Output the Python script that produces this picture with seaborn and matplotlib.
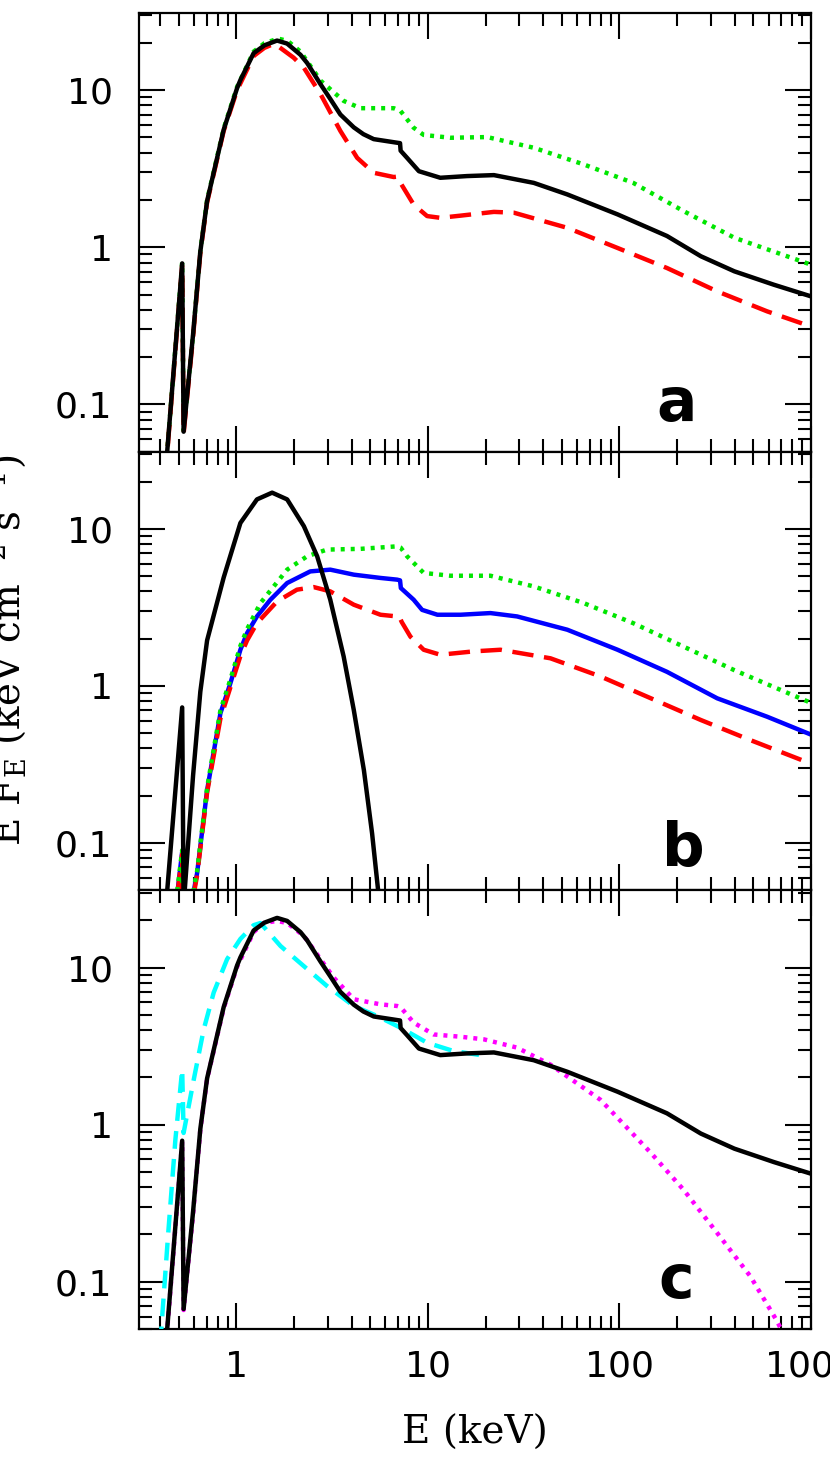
import numpy as np
import pandas as pd
import matplotlib
matplotlib.use("Agg")
import matplotlib.pyplot as plt
import seaborn as sns
from matplotlib.ticker import LogLocator, NullFormatter, FixedLocator, FixedFormatter

# ---------------- data (E in keV, E F_E) ----------------
# total spectrum (black solid, panels a and c)
E_tot = [0.425, 0.521, 0.530, 0.594, 0.648, 0.703, 0.858, 1.008, 1.049, 1.23, 1.335, 1.40, 1.63, 1.84,
         2.16, 2.34, 2.75, 3.09, 3.49, 4.10, 4.60, 5.21, 6.90, 7.15, 7.20, 7.78, 8.97, 11.6, 16.0,
         22.1, 35.7, 53.4, 97.7, 177, 266, 398, 639, 1000]
F_tot = [0.035, 0.79, 0.067, 0.28, 0.94, 1.97, 5.6, 10.3, 11.6, 17.2, 18.5, 19.3, 20.7, 19.8,
         16.8, 14.9, 10.9, 8.8, 7.0, 5.8, 5.25, 4.88, 4.63, 4.60, 4.12, 3.71, 3.05, 2.77, 2.84,
         2.88, 2.57, 2.17, 1.62, 1.18, 0.877, 0.703, 0.578, 0.487]

# panel a: green dotted
E_ga = [0.425, 0.521, 0.530, 0.594, 0.648, 0.703, 0.858, 1.008, 1.23, 1.40, 1.65, 1.85, 2.16, 2.75,
        3.63, 4.45, 6.63, 7.19, 8.42, 9.5, 13.1, 20.4, 35.7, 65, 118, 216, 398, 1000]
F_ga = [0.035, 0.80, 0.068, 0.28, 0.95, 2.0, 5.7, 10.5, 17.6, 19.9, 21.3, 20.6, 17.6, 11.5,
        8.55, 7.68, 7.68, 7.38, 5.77, 5.19, 4.98, 5.03, 4.30, 3.37, 2.57, 1.70, 1.15, 0.775]

# panel a: red dashed
E_ra = [0.425, 0.521, 0.530, 0.594, 0.648, 0.703, 0.858, 1.008, 1.23, 1.40, 1.58, 1.99, 2.25, 2.75,
        3.49, 4.27, 5.21, 6.63, 6.95, 7.19, 8.42, 9.9, 11.6, 14.8, 22.1, 28.1, 53.4, 97.7, 177,
        324, 590, 1000]
F_ra = [0.034, 0.77, 0.065, 0.27, 0.92, 1.93, 5.5, 10.0, 16.5, 18.6, 19.8, 16.1, 13.9, 9.43,
        5.5, 3.71, 2.98, 2.80, 2.82, 2.57, 1.87, 1.58, 1.54, 1.59, 1.68, 1.66, 1.33, 0.99, 0.738,
        0.524, 0.391, 0.313]

# panel b: black solid (soft component)
E_disk = [0.425, 0.521, 0.530, 0.594, 0.648, 0.703, 0.858, 1.049, 1.28, 1.536, 1.84, 2.25, 2.64,
          3.09, 3.63, 4.10, 4.63, 5.11, 5.47, 5.80]
F_disk = [0.035, 0.73, 0.04, 0.27, 0.92, 1.95, 4.9, 10.9, 15.4, 17.0, 15.4, 10.4, 6.69,
          3.54, 1.54, 0.703, 0.291, 0.115, 0.0525, 0.028]

# panel b: blue solid
E_bb = [0.47, 0.521, 0.530, 0.600, 0.623, 0.703, 0.825, 0.93, 1.049, 1.137, 1.28, 1.505, 1.84,
        2.43, 3.09, 4.10, 5.65, 6.90, 7.15, 7.22, 8.42, 9.32, 11.2, 14.8, 21.2, 29.2, 53.4, 97.7,
        177, 324, 590, 1000]
F_bb = [0.03, 0.088, 0.008, 0.05, 0.064, 0.217, 0.67, 1.04, 1.70, 2.17, 2.77, 3.54, 4.52,
        5.36, 5.50, 5.11, 4.87, 4.75, 4.70, 4.20, 3.54, 3.05, 2.84, 2.84, 2.91, 2.77, 2.28, 1.70,
        1.23, 0.834, 0.637, 0.49]

# panel b: red dashed
E_rb = [0.47, 0.521, 0.530, 0.600, 0.623, 0.703, 0.825, 0.93, 1.049, 1.137, 1.28, 1.63, 2.07,
        2.53, 3.09, 4.10, 5.65, 6.9, 7.05, 7.3, 8.1, 9.5, 11.6, 17.3, 23.9, 43.6, 79.5, 146, 266,
        483, 1000]
F_rb = [0.03, 0.085, 0.008, 0.048, 0.062, 0.21, 0.62, 0.98, 1.55, 1.95, 2.51, 3.45, 4.10,
        4.26, 4.0, 3.29, 2.84, 2.77, 2.80, 2.55, 2.06, 1.70, 1.58, 1.66, 1.70, 1.50, 1.15, 0.834,
        0.607, 0.452, 0.32]

# panel b: green dotted
E_gb = [0.47, 0.521, 0.530, 0.600, 0.623, 0.703, 0.825, 0.93, 1.049, 1.137, 1.335, 1.84, 2.34,
        2.97, 4.45, 6.9, 7.2, 7.78, 9.5, 13.1, 21.2, 35.7, 65, 118, 216, 398, 1000]
F_gb = [0.032, 0.09, 0.008, 0.052, 0.066, 0.225, 0.70, 1.10, 1.8, 2.3, 3.37, 5.50, 6.69,
        7.38, 7.46, 7.74, 7.6, 6.69, 5.24, 5.03, 5.03, 4.30, 3.37, 2.51, 1.78, 1.26, 0.78]

# panel c: cyan dashed
E_cy = [0.40, 0.44, 0.48, 0.521, 0.530, 0.599, 0.675, 0.761, 0.894, 1.049, 1.23, 1.335, 1.70,
        2.25, 2.97, 4.10, 5.43, 7.19, 9.9, 13.6, 20.4]
F_cy = [0.04, 0.2, 0.8, 2.24, 0.885, 1.94, 4.04, 6.93, 11.3, 15.2, 18.6, 19.2, 13.7,
        10.2, 7.63, 5.69, 4.91, 4.14, 3.32, 2.94, 2.73]

# panel c: magenta dotted
E_mg = [0.425, 0.521, 0.530, 0.594, 0.648, 0.703, 0.858, 1.008, 1.23, 1.39, 1.63, 1.84, 2.25,
        3.22, 4.10, 5.65, 6.9, 7.19, 8.42, 10.7, 15.0, 19.6, 29.2, 43.6, 79.5, 146, 216, 324,
        483, 660, 750]
F_mg = [0.034, 0.78, 0.066, 0.27, 0.93, 1.95, 5.5, 10.1, 16.8, 19.2, 19.8, 19.2, 15.9,
        8.63, 6.28, 5.83, 5.69, 5.60, 4.46, 3.75, 3.62, 3.49, 3.09, 2.41, 1.44, 0.66, 0.385,
        0.204, 0.108, 0.057, 0.042]

x_ticks = [1, 10, 100, 1000]
x_labels = ["1", "10", "100", "1000"]
y_ticks = [0.1, 1, 10]
y_labels = ["0.1", "1", "10"]
panel_letters = ["a", "b", "c"]

# ---------------- style ----------------
sns.set_style("ticks")
plt.rcParams["font.family"] = ["DejaVu Sans"]
plt.rcParams["mathtext.fontset"] = "dejavuserif"
plt.rcParams["axes.linewidth"] = 1.6
for key in ["text.color", "axes.labelcolor", "xtick.color", "ytick.color", "axes.edgecolor"]:
    plt.rcParams[key] = "black"

W, H = 830, 1462
fig = plt.figure(figsize=(W / 100, H / 100), dpi=100)
left_px, right_px = 139, 811
top_px, bot_px = 13, 1329
ph = (bot_px - top_px) / 3.0
axes = []
for i in range(3):
    t = top_px + i * ph
    ax = fig.add_axes([left_px / W, 1 - (t + ph) / H, (right_px - left_px) / W, ph / H])
    axes.append(ax)

LW = 3.2
SOLID = "-"
DOT = (0, (0.9, 1.35))
DASH = (0, (4.8, 2.4))
DASH_C = (0, (4.0, 2.3))
GREEN = "#00e600"


def draw(ax, E, F, color, ls, z):
    df = pd.DataFrame({"E": E, "F": F})
    sns.lineplot(data=df, x="E", y="F", ax=ax, color=color, linestyle=ls, linewidth=LW,
                 sort=False, estimator=None, zorder=z, legend=False,
                 solid_joinstyle="round", dash_joinstyle="round")


for ax in axes:
    ax.set_xscale("log")
    ax.set_yscale("log")

# panel a
draw(axes[0], E_ga, F_ga, GREEN, DOT, 2)
draw(axes[0], E_ra, F_ra, "#ff0000", DASH, 3)
draw(axes[0], E_tot, F_tot, "black", SOLID, 4)
# panel b
draw(axes[1], E_bb, F_bb, "#0000ff", SOLID, 2)
draw(axes[1], E_rb, F_rb, "#ff0000", DASH, 3)
draw(axes[1], E_gb, F_gb, GREEN, DOT, 4)
draw(axes[1], E_disk, F_disk, "black", SOLID, 5)
# panel c
draw(axes[2], E_mg, F_mg, "#ff00ff", DOT, 2)
draw(axes[2], E_cy, F_cy, "#00ffff", DASH_C, 3)
draw(axes[2], E_tot, F_tot, "black", SOLID, 4)

letter_pos = [(0.80, 0.07), (0.81, 0.055), (0.80, 0.07)]
for i, ax in enumerate(axes):
    ax.set_xlim(0.31, 1000)
    ax.set_ylim(0.05, 31)
    ax.set_xlabel("")
    ax.set_ylabel("")
    ax.xaxis.set_major_locator(FixedLocator(x_ticks))
    ax.xaxis.set_minor_locator(LogLocator(base=10, subs=np.arange(2, 10), numticks=30))
    ax.xaxis.set_minor_formatter(NullFormatter())
    ax.yaxis.set_major_locator(FixedLocator(y_ticks))
    ax.yaxis.set_major_formatter(FixedFormatter(y_labels))
    ax.yaxis.set_minor_locator(LogLocator(base=10, subs=np.arange(2, 10), numticks=30))
    ax.yaxis.set_minor_formatter(NullFormatter())
    if i == 2:
        ax.xaxis.set_major_formatter(FixedFormatter(x_labels))
    else:
        ax.xaxis.set_major_formatter(NullFormatter())
    ax.tick_params(which="both", direction="in", top=True, right=True, width=1.5,
                   colors="black")
    ax.tick_params(which="major", length=19)
    ax.tick_params(which="minor", length=9.5)
    ax.tick_params(axis="y", which="major", labelsize=26, pad=19)
    ax.tick_params(axis="x", which="major", labelsize=26, pad=15,
                   labelbottom=(i == 2))
    for sp in ax.spines.values():
        sp.set_visible(True)
        sp.set_linewidth(1.6)
        sp.set_color("black")
    lx, ly = letter_pos[i]
    ax.text(lx, ly, panel_letters[i], transform=ax.transAxes, ha="center", va="baseline",
            fontsize=43, fontweight="bold", family="DejaVu Sans", color="black")

fig.text((left_px + right_px) / 2 / W, 1 - 1433 / H, "E (keV)", ha="center", va="center",
         fontsize=28, family="DejaVu Serif", color="black")
fig.text(28 / W, 1 - 650 / H, r"E F$_{\rm E}$ (keV cm$^{-2}$ s$^{-1}$)", rotation=90,
         ha="right", va="center", fontsize=28, family="DejaVu Serif", color="black")

fig.savefig("out.png", dpi=100, facecolor="white")
